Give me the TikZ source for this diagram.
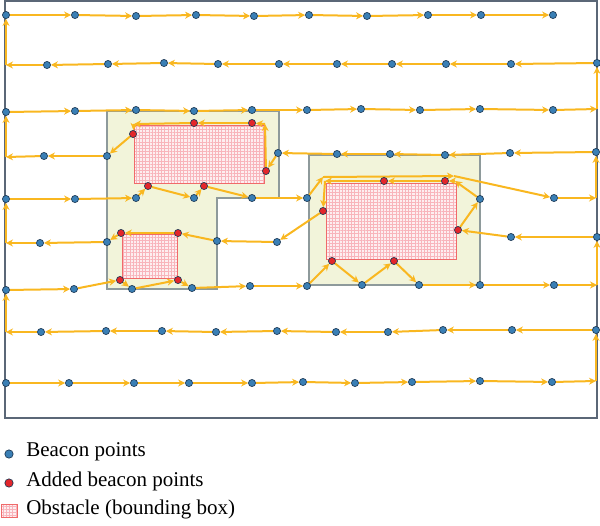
\documentclass[tikz,border=0pt]{standalone}
\usepackage{fontspec}
\setmainfont{Liberation Serif}
\usetikzlibrary{arrows.meta,patterns.meta}

\definecolor{bcnblue}{HTML}{3A7FB5}
\definecolor{bcnedge}{HTML}{1E3A55}
\definecolor{addred}{HTML}{E3262B}
\definecolor{pathyel}{HTML}{F9B720}
\definecolor{framegray}{HTML}{5B6777}
\definecolor{zonefill}{HTML}{F2F4DA}
\definecolor{zoneedge}{HTML}{8E9A9B}
\definecolor{obsred}{HTML}{F06A6A}
\definecolor{obspink}{HTML}{FDEEF0}
\definecolor{obsgrid}{HTML}{F8B4BB}

\pgfdeclarelayer{bg}
\pgfsetlayers{bg,main}

\tikzset{
  bcn/.style={circle,draw=bcnedge,fill=bcnblue,line width=0.4pt,inner sep=0pt,minimum size=4.3pt},
  added/.style={bcn,fill=addred},
  kink/.style={coordinate},
  hop/.style={draw=pathyel,line width=1.2pt,-{Stealth[length=4.2pt,width=4.2pt]}},
  zone/.style={fill=zonefill,draw=zoneedge,line width=0.7pt},
  obst/.style={draw=obsred,line width=0.6pt,preaction={fill=obspink},
    pattern={Hatch[angle=0,distance=1.9pt,line width=0.3pt]},pattern color=obsgrid},
  keytext/.style={anchor=west,inner sep=0pt,font=\fontsize{12.6}{15}\selectfont},
}

\begin{document}
\begin{tikzpicture}[x=0.6pt,y=-0.6pt]
  \useasboundingbox (0,0) rectangle (600,525);
  % ---------- field, free zones and obstacles
  \begin{pgfonlayer}{bg}
    \draw[framegray,line width=0.9pt] (5,1) rectangle (597,418);
    \draw[zone] (107,111) -- (279,111) -- (279,198) -- (217,198) -- (217,289) -- (107,289) -- cycle;
    \draw[zone] (309,155) rectangle (480,285);
    \path[obst] (134,125) rectangle (264,183);
    \path[obst] (326,183) rectangle (456,259);
    \path[obst] (122,234) rectangle (177,278);
  \end{pgfonlayer}
  % ---------- beacon rows, bottom (r9) to top (r1)
  \foreach \kind/\x/\y [count=\i] in {bcn/6/383,bcn/69/383,bcn/134/383,bcn/189/383,bcn/252/383,
      bcn/303/382,bcn/355/383,bcn/412/382,bcn/480/381,bcn/552/382,kink/596/381}
    \node[\kind] (r9-\i) at (\x,\y) {};
  \foreach \kind/\x/\y [count=\i] in {bcn/596/330,bcn/512/330,bcn/443/330,bcn/388/332,bcn/336/332,
      bcn/277/331,bcn/216/332,bcn/162/331,bcn/106/331,bcn/41/332,kink/6/332}
    \node[\kind] (r8-\i) at (\x,\y) {};
  \foreach \kind/\x/\y [count=\i] in {bcn/6/290,bcn/74/289,added/120/280,bcn/132/289,added/178/280,
      bcn/192/288,bcn/250/286,bcn/307/286,added/332/261,bcn/362/285,added/394/261,bcn/419/285,
      bcn/480/285,bcn/554/285,kink/597/285}
    \node[\kind] (r7-\i) at (\x,\y) {};
  \foreach \kind/\x/\y [count=\i] in {bcn/597/237,bcn/511/237,added/458/230,bcn/480/199,kink/455/181,
      added/445/181,added/384/181,kink/325/181,added/323/211,bcn/277/242,bcn/217/241,added/178/233,
      added/121/233,bcn/107/242,bcn/40/243,kink/6/243}
    \node[\kind] (r6-\i) at (\x,\y) {};
  \foreach \kind/\x/\y [count=\i] in {bcn/6/199,bcn/75/199,bcn/136/198,added/148/186,bcn/194/198,
      added/204/186,bcn/252/198,bcn/307/198,kink/323/177,kink/454/176,bcn/554/198,kink/596/198}
    \node[\kind] (r5-\i) at (\x,\y) {};
  \foreach \kind/\x/\y [count=\i] in {bcn/596/152,bcn/510/153,bcn/445/155,bcn/390/154,bcn/337/154,
      bcn/278/153,added/266/171,kink/265/124,added/252/123,added/194/123,kink/134/124,added/133/134,
      bcn/107/156,bcn/44/156,kink/6/157}
    \node[\kind] (r4-\i) at (\x,\y) {};
  \foreach \kind/\x/\y [count=\i] in {bcn/6/112,bcn/75/111,bcn/136/110,bcn/194/111,bcn/252/110,
      bcn/307/110,bcn/361/109,bcn/420/110,bcn/480/109,bcn/553/110,kink/597/109}
    \node[\kind] (r3-\i) at (\x,\y) {};
  \foreach \kind/\x/\y [count=\i] in {bcn/597/63,bcn/511/64,bcn/446/64,bcn/392/64,bcn/337/64,
      bcn/279/64,bcn/218/64,bcn/164/63,bcn/108/64,bcn/47/65,kink/6/65}
    \node[\kind] (r2-\i) at (\x,\y) {};
  \foreach \kind/\x/\y [count=\i] in {bcn/6/15,bcn/75/15,bcn/136/16,bcn/196/15,bcn/254/16,
      bcn/309/15,bcn/367/16,bcn/428/15,bcn/481/15,bcn/553/15}
    \node[\kind] (r1-\i) at (\x,\y) {};
  % ---------- the route
  \begin{pgfonlayer}{bg}
    \foreach \r/\n in {9/11,8/11,7/15,6/16,5/12,4/15,3/11,2/11,1/10}
      \foreach \i [remember=\i as \j (initially 1)] in {2,...,\n}
        \draw[hop] (r\r-\j) -- (r\r-\i);
    \draw[hop] (r9-11) -- (r8-1);
    \draw[hop] (r8-11) -- (r7-1);
    \draw[hop] (r7-15) -- (r6-1);
    \draw[hop] (r6-16) -- (r5-1);
    \draw[hop] (r5-12) -- (r4-1);
    \draw[hop] (r4-15) -- (r3-1);
    \draw[hop] (r3-11) -- (r2-1);
    \draw[hop] (r2-11) -- (r1-1);
  \end{pgfonlayer}
  % ---------- legend
  \node[bcn,minimum size=5pt] (keyb) at (9,454) {};
  \node[keytext] (keyb-t) at (26,452) {Beacon points};
  \node[added,minimum size=5pt] (keya) at (9,483) {};
  \node[keytext] (keya-t) at (26,481) {Added beacon points};
  \node[obst,inner sep=0pt,minimum width=9.6pt,minimum height=7.8pt] (keyo) at (9,511) {};
  \node[keytext] (keyo-t) at (26,509) {Obstacle (bounding box)};
\end{tikzpicture}
\end{document}
